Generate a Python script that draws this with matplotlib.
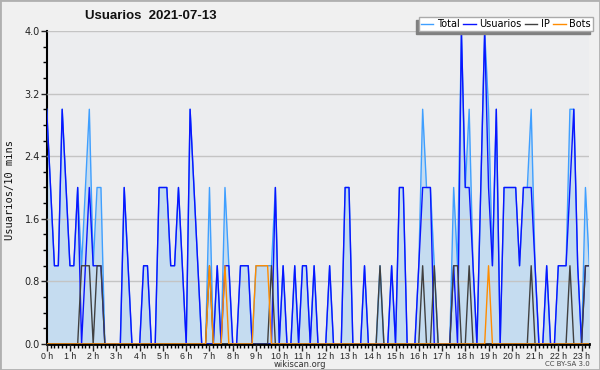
import matplotlib
matplotlib.use("Agg")
import matplotlib.pyplot as plt
from matplotlib.ticker import MultipleLocator, FuncFormatter
from matplotlib.patches import Rectangle
import numpy as np

title = "Usuarios  2021-07-13"
y_label = "Usuarios/10 mins"
series_names = ["Total", "Usuarios", "IP", "Bots"]

# one value per 10 minutes from 0 h 00, two hours per row
total = [3, 2, 1, 1, 3, 2, 1, 1, 2, 1, 2, 3,
         1, 2, 2, 0, 0, 0, 0, 0, 2, 1, 0, 0,
         0, 1, 1, 0, 0, 2, 2, 2, 1, 1, 2, 1,
         0, 3, 2, 1, 0, 0, 2, 0, 1, 0, 2, 1,
         0, 0, 1, 1, 1, 0, 1, 1, 1, 1, 1, 2,
         0, 1, 0, 0, 1, 0, 1, 1, 0, 1, 0, 0,
         0, 1, 0, 0, 0, 2, 2, 0, 0, 0, 1, 0,
         0, 0, 1, 0, 0, 1, 0, 2, 2, 0, 0, 0,
         1, 3, 2, 2, 1, 0, 0, 0, 0, 2, 1, 4,
         2, 3, 1, 0, 2, 4, 3, 1, 3, 0, 2, 2,
         2, 2, 1, 2, 2, 3, 1, 0, 0, 1, 0, 0,
         1, 1, 1, 3, 3, 1, 0, 2, 1]
usuarios = [3, 2, 1, 1, 3, 2, 1, 1, 2, 0, 1, 2,
            1, 1, 1, 0, 0, 0, 0, 0, 2, 1, 0, 0,
            0, 1, 1, 0, 0, 2, 2, 2, 1, 1, 2, 1,
            0, 3, 2, 1, 0, 0, 0, 0, 1, 0, 1, 1,
            0, 0, 1, 1, 1, 0, 0, 0, 0, 0, 0, 2,
            0, 1, 0, 0, 1, 0, 1, 1, 0, 1, 0, 0,
            0, 1, 0, 0, 0, 2, 2, 0, 0, 0, 1, 0,
            0, 0, 0, 0, 0, 1, 0, 2, 2, 0, 0, 0,
            1, 2, 2, 2, 0, 0, 0, 0, 0, 1, 0, 4,
            2, 2, 1, 0, 2, 4, 2, 1, 3, 0, 2, 2,
            2, 2, 1, 2, 2, 2, 1, 0, 0, 1, 0, 0,
            1, 1, 1, 2, 3, 1, 0, 1, 1]
ip = [0, 0, 0, 0, 0, 0, 0, 0, 0, 1, 1, 1,
      0, 1, 1, 0, 0, 0, 0, 0, 0, 0, 0, 0,
      0, 0, 0, 0, 0, 0, 0, 0, 0, 0, 0, 0,
      0, 0, 0, 0, 0, 0, 1, 0, 0, 0, 0, 0,
      0, 0, 0, 0, 0, 0, 0, 0, 0, 0, 1, 0,
      0, 0, 0, 0, 0, 0, 0, 0, 0, 0, 0, 0,
      0, 0, 0, 0, 0, 0, 0, 0, 0, 0, 0, 0,
      0, 0, 1, 0, 0, 0, 0, 0, 0, 0, 0, 0,
      0, 1, 0, 0, 1, 0, 0, 0, 0, 1, 1, 0,
      0, 1, 0, 0, 0, 0, 0, 0, 0, 0, 0, 0,
      0, 0, 0, 0, 0, 1, 0, 0, 0, 0, 0, 0,
      0, 0, 0, 1, 0, 0, 0, 1, 1]
bots = [0, 0, 0, 0, 0, 0, 0, 0, 0, 0, 0, 0,
        0, 0, 0, 0, 0, 0, 0, 0, 0, 0, 0, 0,
        0, 0, 0, 0, 0, 0, 0, 0, 0, 0, 0, 0,
        0, 0, 0, 0, 0, 0, 1, 0, 0, 0, 1, 0,
        0, 0, 0, 0, 0, 0, 1, 1, 1, 1, 0, 0,
        0, 0, 0, 0, 0, 0, 0, 0, 0, 0, 0, 0,
        0, 0, 0, 0, 0, 0, 0, 0, 0, 0, 0, 0,
        0, 0, 0, 0, 0, 0, 0, 0, 0, 0, 0, 0,
        0, 0, 0, 0, 0, 0, 0, 0, 0, 0, 0, 0,
        0, 0, 0, 0, 0, 0, 1, 0, 0, 0, 0, 0,
        0, 0, 0, 0, 0, 0, 0, 0, 0, 0, 0, 0,
        0, 0, 0, 0, 0, 0, 0, 0, 0]

colors = ["#3f9fff", "#0a14ff", "#404040", "#ff8c00"]

hours = np.arange(len(total)) / 6

fig = plt.figure(figsize=(6, 3.7), dpi=100, facecolor="#f0f0f0")
ax = fig.add_axes([0.0778, 0.0703, 0.9044, 0.8459])
ax.set_facecolor("#ecedef")

# filled total + the four lines
ax.fill_between(hours, total, color="#c5dcf0", lw=0, zorder=1)
handles = []
for vals, name, col in zip([total, usuarios, ip, bots], series_names, colors):
    ln, = ax.plot(hours, vals, color=col, lw=1.0, label=name, zorder=3)
    handles.append(ln)

ax.set_xlim(0, hours[-1])
ax.set_ylim(0, 4)

ax.yaxis.set_major_locator(MultipleLocator(0.8))
ax.yaxis.set_minor_locator(MultipleLocator(0.2))
ax.yaxis.set_major_formatter(FuncFormatter(lambda v, p: f"{v:.1f}"))
ax.xaxis.set_major_locator(MultipleLocator(1))
ax.xaxis.set_minor_locator(MultipleLocator(1 / 6))
ax.xaxis.set_major_formatter(FuncFormatter(lambda v, p: f"{int(round(v))} h"))

ax.set_axisbelow(False)
ax.grid(axis="y", which="major", color="#c4c4c4", lw=1)

for s in ["top", "right"]:
    ax.spines[s].set_visible(False)
ax.spines["left"].set_linewidth(1.5)
ax.spines["bottom"].set_linewidth(2)

ax.tick_params(axis="x", which="major", length=5, width=1, labelsize=6.3, pad=0.5, colors="#222")
ax.tick_params(axis="x", which="minor", length=3, width=1)
ax.tick_params(axis="y", which="major", length=4, width=1, labelsize=7, pad=1, colors="#222")
ax.tick_params(axis="y", which="minor", length=3, width=1)
for lab in ax.get_xticklabels():
    lab.set_family("Liberation Sans")

# texts
fig.text(85 / 600, 1 - 16 / 370, title, fontsize=9.5, fontweight="bold", family="Liberation Sans",
         va="center", color="#111")
fig.text(10 / 600, 1 - 190 / 370, y_label, rotation=90, family="DejaVu Sans Mono",
         fontsize=7.5, ha="center", va="center", color="#111")
fig.text(300 / 600, 1 - 364.5 / 370, "wikiscan.org", fontsize=6, ha="center", va="center", color="#333")
fig.text(590 / 600, 1 - 364.5 / 370, "CC BY-SA 3.0", fontsize=5, ha="right", va="center", color="#444")

leg = ax.legend(handles=handles, ncol=4, loc="upper right",
                bbox_to_anchor=(593 / 600, 1 - 17 / 370), bbox_transform=fig.transFigure,
                fontsize=7, frameon=True, fancybox=False, handlelength=1.3,
                handletextpad=0.4, columnspacing=0.3, borderpad=0.2, borderaxespad=0,
                shadow={"ox": -2.2, "oy": -2.2, "color": "#808080", "alpha": 1})
leg.get_frame().set_edgecolor("#aaaaaa")
leg.get_frame().set_linewidth(1)
leg.set_zorder(5)

fig.patches.append(Rectangle((0, 0), 1, 1, transform=fig.transFigure, fill=False,
                             edgecolor="#b0b0b0", lw=2))

fig.savefig("out.png", dpi=100, facecolor=fig.get_facecolor())
